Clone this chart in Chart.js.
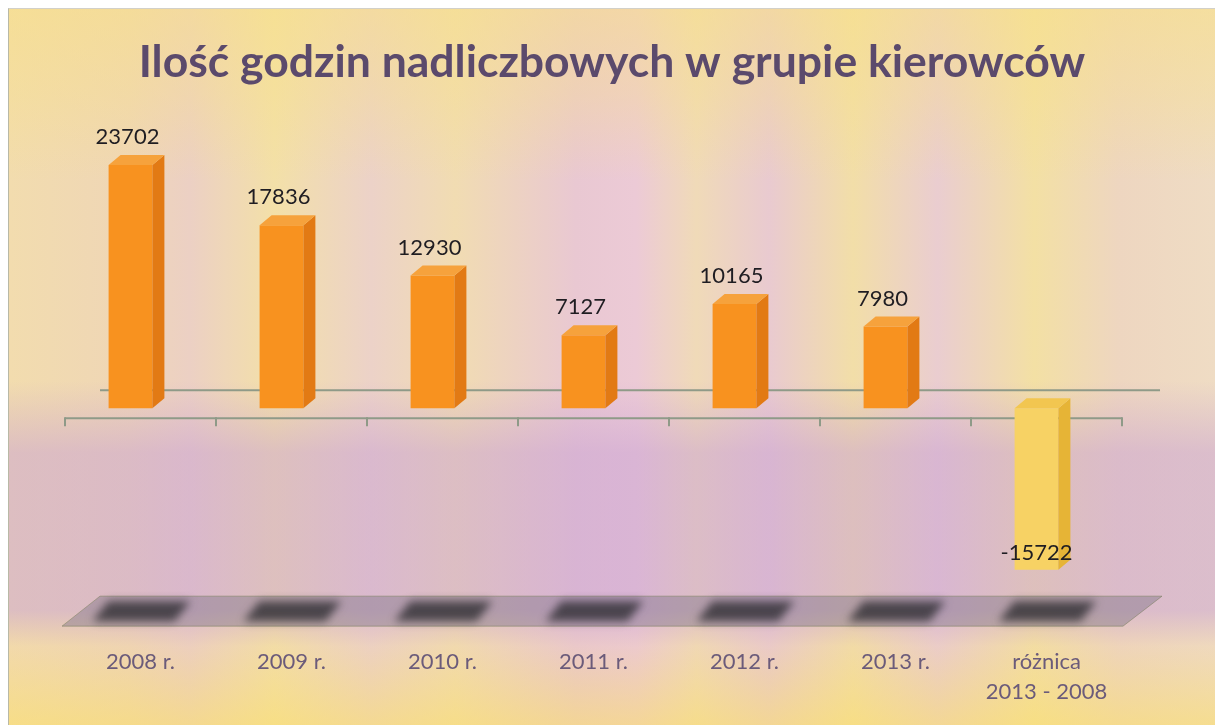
<!DOCTYPE html>
<html lang="pl">
<head>
<meta charset="utf-8">
<title>Ilość godzin nadliczbowych w grupie kierowców</title>
<script src="https://cdn.jsdelivr.net/npm/chart.js@4.4.1/dist/chart.umd.min.js"></script>
<style>
  html, body { margin: 0; padding: 0; background: #fff; }
  #wrap { position: relative; width: 1215px; height: 725px; overflow: hidden; }
  #bg {
    position: absolute; left: 8px; top: 8px; right: 0; bottom: 0;
    border-left: 1px solid #b9b9a6; border-top: 1px solid #d2d0c8;
    background:
      linear-gradient(to bottom, rgba(248,224,135,0.6) 0%, rgba(248,224,135,0.35) 12%, rgba(248,224,135,0) 24%, rgba(200,160,212,0) 52%, rgba(200,160,212,0.5) 62%, rgba(200,160,212,0.5) 84%, rgba(240,200,150,0.15) 89%, rgba(250,222,110,0.6) 100%),
      linear-gradient(to right, #f2dcae 0%, #efd6b6 10%, #ecd0c4 15%, #f3e0a8 22%, #ecd2c8 30%, #f1dcb2 37%, #e9c8d2 47%, #eccad6 52%, #f0dab8 57%, #e9cad0 63%, #f2dea8 70%, #eacdd0 77%, #f3e0a4 85%, #eed6c0 92%, #efdcc4 100%);
  }
  canvas { position: absolute; left: 0; top: 0; }
</style>
</head>
<body>
<div id="wrap">
  <div id="bg"></div>
  <canvas id="chart" width="1215" height="725"></canvas>
</div>
<script>
// dane wykresu
const categories = ['2008 r.', '2009 r.', '2010 r.', '2011 r.', '2012 r.', '2013 r.', ['różnica', '2013 - 2008']];
const hours = [23702, 17836, 12930, 7127, 10165, 7980, -15722];

// kolory ścian słupków (przód / bok / góra)
const frontColors = ['#f8921f', '#f8921f', '#f8921f', '#f8921f', '#f8921f', '#f8921f', '#f7d264'];
const sideColors  = ['#e27a14', '#e27a14', '#e27a14', '#e27a14', '#e27a14', '#e27a14', '#e6b436'];
const topColors   = ['#f6a23c', '#f6a23c', '#f6a23c', '#f6a23c', '#f6a23c', '#f6a23c', '#f2c650'];

const FONT = 'Lato, "Open Sans", sans-serif';
const DX = 12, DY = 10; // głębokość 3D

function line(ctx, x1, y1, x2, y2) {
  ctx.beginPath();
  ctx.moveTo(x1, y1);
  ctx.lineTo(x2, y2);
  ctx.stroke();
}

// podłoga, cienie, linie osi - pod słupkami
const floorPlugin = {
  id: 'floor3d',
  beforeDatasetsDraw(chart) {
    const { ctx, chartArea, scales: { x, y } } = chart;
    const zero = y.getPixelForValue(0);
    const fb = chartArea.bottom - 9, ft = chartArea.bottom - 39;
    ctx.save();

    ctx.fillStyle = 'rgba(105,100,118,0.36)';
    ctx.beginPath();
    ctx.moveTo(x.left + 45, ft);
    ctx.lineTo(x.right + 50, ft);
    ctx.lineTo(x.right + 11, fb);
    ctx.lineTo(x.left + 7, fb);
    ctx.closePath();
    ctx.fill();
    ctx.strokeStyle = 'rgba(120,125,90,0.5)';
    ctx.lineWidth = 1;
    ctx.stroke();

    // cienie pod słupkami
    ctx.filter = 'blur(4px)';
    ctx.fillStyle = 'rgba(40,40,44,0.75)';
    chart.getDatasetMeta(0).data.forEach(bar => {
      const cx = bar.x + 8;
      ctx.beginPath();
      ctx.moveTo(cx - 30, ft + 5);
      ctx.lineTo(cx + 52, ft + 5);
      ctx.lineTo(cx + 36, fb - 5);
      ctx.lineTo(cx - 46, fb - 5);
      ctx.closePath();
      ctx.fill();
    });
    ctx.filter = 'none';

    // linia zera na tylnej ścianie
    ctx.strokeStyle = '#8f9a88';
    ctx.lineWidth = 2;
    line(ctx, x.left + 45, zero - 18, x.right + 48, zero - 18);

    // przednia oś kategorii z kreskami
    line(ctx, x.left + 10, zero + 10, x.right + 10, zero + 10);
    const step = x.width / categories.length;
    for (let i = 0; i <= categories.length; i++) {
      const tx = x.left + 10 + i * step;
      line(ctx, tx, zero + 9, tx, zero + 18);
    }
    ctx.restore();
  }
};

// boki i góry słupków + etykiety danych
const barPlugin = {
  id: 'bar3d',
  afterDatasetsDraw(chart) {
    const { ctx } = chart;
    ctx.save();
    chart.getDatasetMeta(0).data.forEach((bar, i) => {
      const xl = bar.x - bar.width / 2, xr = bar.x + bar.width / 2;
      const top = Math.min(bar.y, bar.base), bot = Math.max(bar.y, bar.base);

      ctx.fillStyle = sideColors[i];
      ctx.beginPath();
      ctx.moveTo(xr, top);
      ctx.lineTo(xr + DX, top - DY);
      ctx.lineTo(xr + DX, bot - DY);
      ctx.lineTo(xr, bot);
      ctx.closePath();
      ctx.fill();

      ctx.fillStyle = topColors[i];
      ctx.beginPath();
      ctx.moveTo(xl, top);
      ctx.lineTo(xl + DX, top - DY);
      ctx.lineTo(xr + DX, top - DY);
      ctx.lineTo(xr, top);
      ctx.closePath();
      ctx.fill();

      const v = hours[i];
      ctx.font = '22px ' + FONT;
      ctx.fillStyle = '#1f1d22';
      ctx.textAlign = 'center';
      ctx.textBaseline = 'middle';
      if (v >= 0) ctx.fillText(String(v), bar.x - 3, bar.y - 28);
      else ctx.fillText(String(v), bar.x, bar.y - 17);
    });
    ctx.restore();
  }
};

new Chart(document.getElementById('chart'), {
  type: 'bar',
  data: {
    labels: categories,
    datasets: [{
      data: hours,
      backgroundColor: frontColors,
      borderWidth: 0,
      barPercentage: 0.29,
      categoryPercentage: 1
    }]
  },
  options: {
    responsive: false,
    animation: false,
    layout: { padding: { left: 55, right: 46, top: 0, bottom: 14 } },
    plugins: {
      legend: { display: false },
      tooltip: { enabled: false },
      title: {
        display: true,
        text: 'Ilość godzin nadliczbowych w grupie kierowców',
        color: '#5b4a6c',
        font: { family: FONT, size: 44.5, weight: 'bold', lineHeight: 1.2 },
        padding: { top: 36, bottom: 11 }
      }
    },
    scales: {
      x: {
        grid: { display: false },
        border: { display: false },
        ticks: {
          color: '#6b5b7a',
          font: { family: FONT, size: 22, lineHeight: 1.36 },
          padding: 4,
          labelOffset: 10,
          maxRotation: 0,
          autoSkip: false
        }
      },
      y: {
        // oś ukryta, zajmuje tylko miejsce po prawej
        position: 'right',
        min: -22100,
        max: 30000,
        grid: { display: false },
        border: { display: false },
        ticks: { display: false },
        afterFit(scale) { scale.width = 57; }
      }
    }
  },
  plugins: [floorPlugin, barPlugin]
});
</script>
</body>
</html>
